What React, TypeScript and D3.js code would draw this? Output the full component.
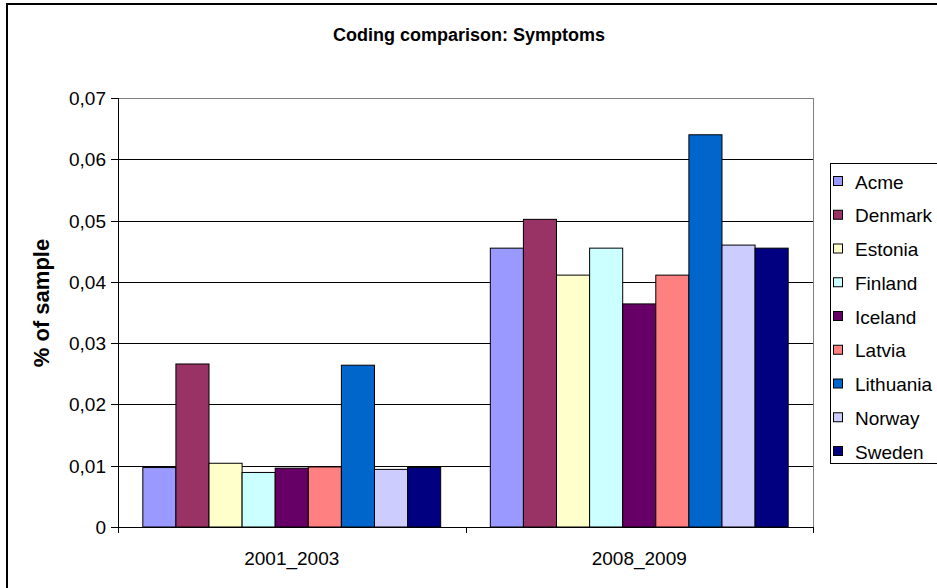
import * as d3 from 'd3';
import { useMemo } from 'react';

const categories = ['2001_2003', '2008_2009'];
const countries = ['Acme', 'Denmark', 'Estonia', 'Finland', 'Iceland', 'Latvia', 'Lithuania', 'Norway', 'Sweden'];
const colors = ['#9999FF', '#993366', '#FFFFCC', '#CCFFFF', '#660066', '#FF8080', '#0066CC', '#CCCCFF', '#000080'];
// one value per country, per period
const values2001 = [0.0097, 0.0266, 0.0104, 0.0089, 0.0096, 0.0098, 0.0264, 0.0094, 0.0097];
const values2008 = [0.0455, 0.0502, 0.0411, 0.0455, 0.0364, 0.0411, 0.064, 0.046, 0.0455];
const yTicks = [0, 0.01, 0.02, 0.03, 0.04, 0.05, 0.06, 0.07];

const font = '"Liberation Sans", Arial, sans-serif';

export default function App() {
  const W = 937, H = 588;
  const left = 118, right = 813, top = 98, bottom = 527;

  const data = useMemo(() => categories.map((c, i) => ({
    category: c,
    values: (i === 0 ? values2001 : values2008).map((v, j) => ({ name: countries[j], value: v, color: colors[j] })),
  })), []);

  const x0 = d3.scaleBand().domain(categories).range([left, right]).paddingInner(0).paddingOuter(0);
  const x1 = d3.scaleBand().domain(countries).range([0, x0.bandwidth()]).paddingInner(0).paddingOuter(0.75);
  const y = d3.scaleLinear().domain([0, 0.07]).range([bottom, top]);
  const fmt = (v: number) => (v === 0 ? '0' : d3.format('.2f')(v).replace('.', ','));

  return (
    <svg width={W} height={H} style={{ position: 'fixed', left: 0, top: 0, background: '#fff' }} fontFamily={font}>
      <rect x={7} y={4} width={W + 20} height={H + 20} fill="#fff" stroke="#000" strokeWidth={2} />
      <text x={469} y={41} textAnchor="middle" fontSize={18} fontWeight="bold">Coding comparison: Symptoms</text>

      {/* plot frame + grid */}
      {yTicks.filter(t => t > 0).map(t => (
        <line key={t} x1={left} x2={right} y1={Math.round(y(t)) + 0.5} y2={Math.round(y(t)) + 0.5}
          stroke={t === 0.07 ? '#808080' : '#000'} strokeWidth={1} />
      ))}
      <line x1={right + 0.5} x2={right + 0.5} y1={top} y2={bottom} stroke="#808080" />

      {data.map(g => (
        <g key={g.category} transform={`translate(${x0(g.category)},0)`}>
          {g.values.map(d => (
            <rect key={d.name} x={x1(d.name)} y={y(d.value)} width={x1.bandwidth()} height={bottom - y(d.value)}
              fill={d.color} stroke="#000" strokeWidth={1} />
          ))}
        </g>
      ))}

      {/* y axis */}
      <line x1={left + 0.5} x2={left + 0.5} y1={top} y2={bottom + 6} stroke="#000" />
      {yTicks.map(t => (
        <g key={t} transform={`translate(0,${Math.round(y(t)) + 0.5})`}>
          <line x1={left - 7} x2={left} stroke="#000" />
          <text x={left - 12} dy="0.35em" textAnchor="end" fontSize={19}>{fmt(t)}</text>
        </g>
      ))}
      <text transform={`translate(49,303) rotate(-90)`} textAnchor="middle" fontSize={22} fontWeight="bold">% of sample</text>

      {/* x axis */}
      <line x1={left} x2={right} y1={bottom + 0.5} y2={bottom + 0.5} stroke="#000" />
      {[left, left + x0.bandwidth(), right].map((xx, i) => (
        <line key={i} x1={Math.round(xx) + 0.5} x2={Math.round(xx) + 0.5} y1={bottom} y2={bottom + 6} stroke="#000" />
      ))}
      {categories.map(c => (
        <text key={c} x={(x0(c) ?? 0) + x0.bandwidth() / 2} y={565} textAnchor="middle" fontSize={19}>{c}</text>
      ))}

      {/* legend */}
      <rect x={830.5} y={163.5} width={120} height={300} fill="#fff" stroke="#000" />
      {countries.map((c, i) => (
        <g key={c} transform={`translate(0,${182 + i * 33.75})`}>
          <rect x={833.5} y={-5.5} width={9} height={9} fill={colors[i]} stroke="#000" />
          <text x={855} dy="0.35em" fontSize={19}>{c}</text>
        </g>
      ))}
    </svg>
  );
}
